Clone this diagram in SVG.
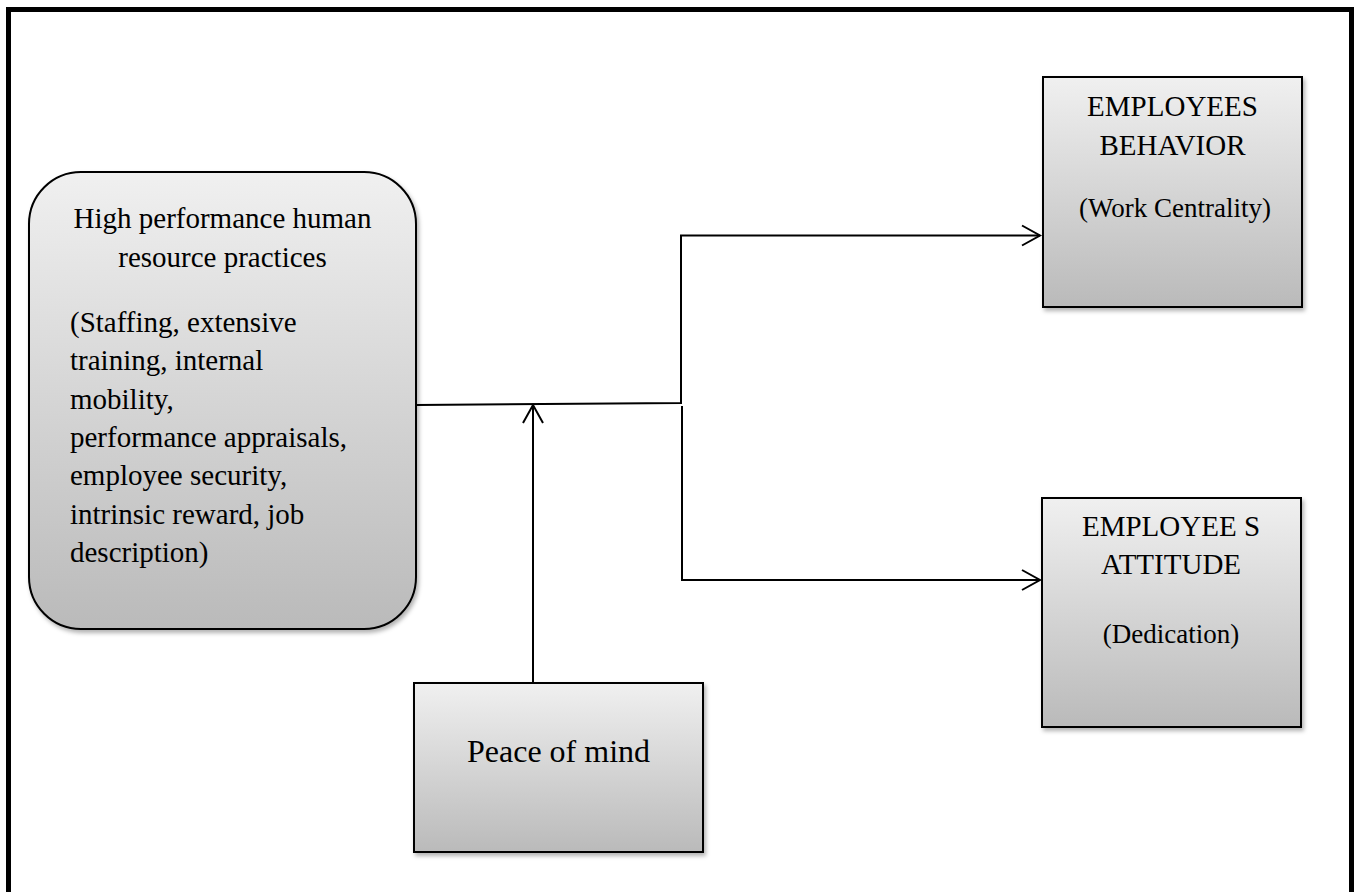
<svg xmlns="http://www.w3.org/2000/svg" width="1357" height="892" viewBox="0 0 1357 892">
  <style>
    .box { stroke: #000; stroke-width: 2; fill: url(#grad); filter: url(#shadow); }
    .t { font-family: "Liberation Serif", "Times New Roman", serif; fill: #000; }
    .conn { fill: none; stroke: #000; stroke-width: 2; }
  </style>
  <defs>
    <linearGradient id="grad" x1="0" y1="0" x2="0" y2="1">
      <stop offset="0" stop-color="#f0f0f0"/>
      <stop offset="1" stop-color="#bababa"/>
    </linearGradient>
    <filter id="shadow" x="-10%" y="-10%" width="130%" height="130%">
      <feDropShadow dx="2" dy="3" stdDeviation="2" flood-color="#000" flood-opacity="0.3"/>
    </filter>
    <marker id="arrow" markerUnits="userSpaceOnUse" markerWidth="24" markerHeight="24" viewBox="-20 -12 24 24" refX="0" refY="0" orient="auto">
      <path d="M-18,-10 L0,0 L-18,10" fill="none" stroke="#000" stroke-width="2"/>
    </marker>
  </defs>

  <rect x="0" y="0" width="1357" height="892" fill="#fff"/>
  <rect id="frame" x="8.5" y="9.5" width="1343" height="900" fill="none" stroke="#000" stroke-width="5"/>

  <g id="hr-practices">
    <rect class="box" x="29" y="172" width="387" height="457" rx="52" ry="52"/>
    <text class="t" font-size="29" text-anchor="middle" x="222.5" y="228">High performance human</text>
    <text class="t" font-size="29" text-anchor="middle" x="222.5" y="267">resource practices</text>
    <text class="t" font-size="29" x="70" y="332">(Staffing, extensive</text>
    <text class="t" font-size="29" x="70" y="370">training, internal</text>
    <text class="t" font-size="29" x="70" y="408.5">mobility,</text>
    <text class="t" font-size="29" x="70" y="447">performance appraisals,</text>
    <text class="t" font-size="29" x="70" y="485">employee security,</text>
    <text class="t" font-size="29" x="70" y="523.5">intrinsic reward, job</text>
    <text class="t" font-size="29" x="70" y="562">description)</text>
  </g>

  <g id="employees-behavior">
    <rect class="box" x="1043" y="77" width="259" height="230"/>
    <text class="t" font-size="29" text-anchor="middle" x="1172.5" y="116">EMPLOYEES</text>
    <text class="t" font-size="29" text-anchor="middle" x="1172.5" y="154.5">BEHAVIOR</text>
    <text class="t" font-size="27" text-anchor="middle" x="1175" y="217">(Work Centrality)</text>
  </g>

  <g id="employees-attitude">
    <rect class="box" x="1042" y="498" width="259" height="229"/>
    <text class="t" font-size="29" text-anchor="middle" x="1171" y="536">EMPLOYEE S</text>
    <text class="t" font-size="29" text-anchor="middle" x="1171" y="574">ATTITUDE</text>
    <text class="t" font-size="27" text-anchor="middle" x="1171" y="643">(Dedication)</text>
  </g>

  <g id="peace-of-mind">
    <rect class="box" x="414" y="683" width="289" height="169"/>
    <text class="t" font-size="32" text-anchor="middle" x="558.5" y="762">Peace of mind</text>
  </g>

  <g id="connectors">
    <path class="conn" d="M416,405 L681,403 L681,235.5 L1040,235.5" marker-end="url(#arrow)"/>
    <path class="conn" d="M682,406 L682,580 L1040,580" marker-end="url(#arrow)"/>
    <path class="conn" d="M533,683 L533,405" marker-end="url(#arrow)"/>
  </g>
</svg>
